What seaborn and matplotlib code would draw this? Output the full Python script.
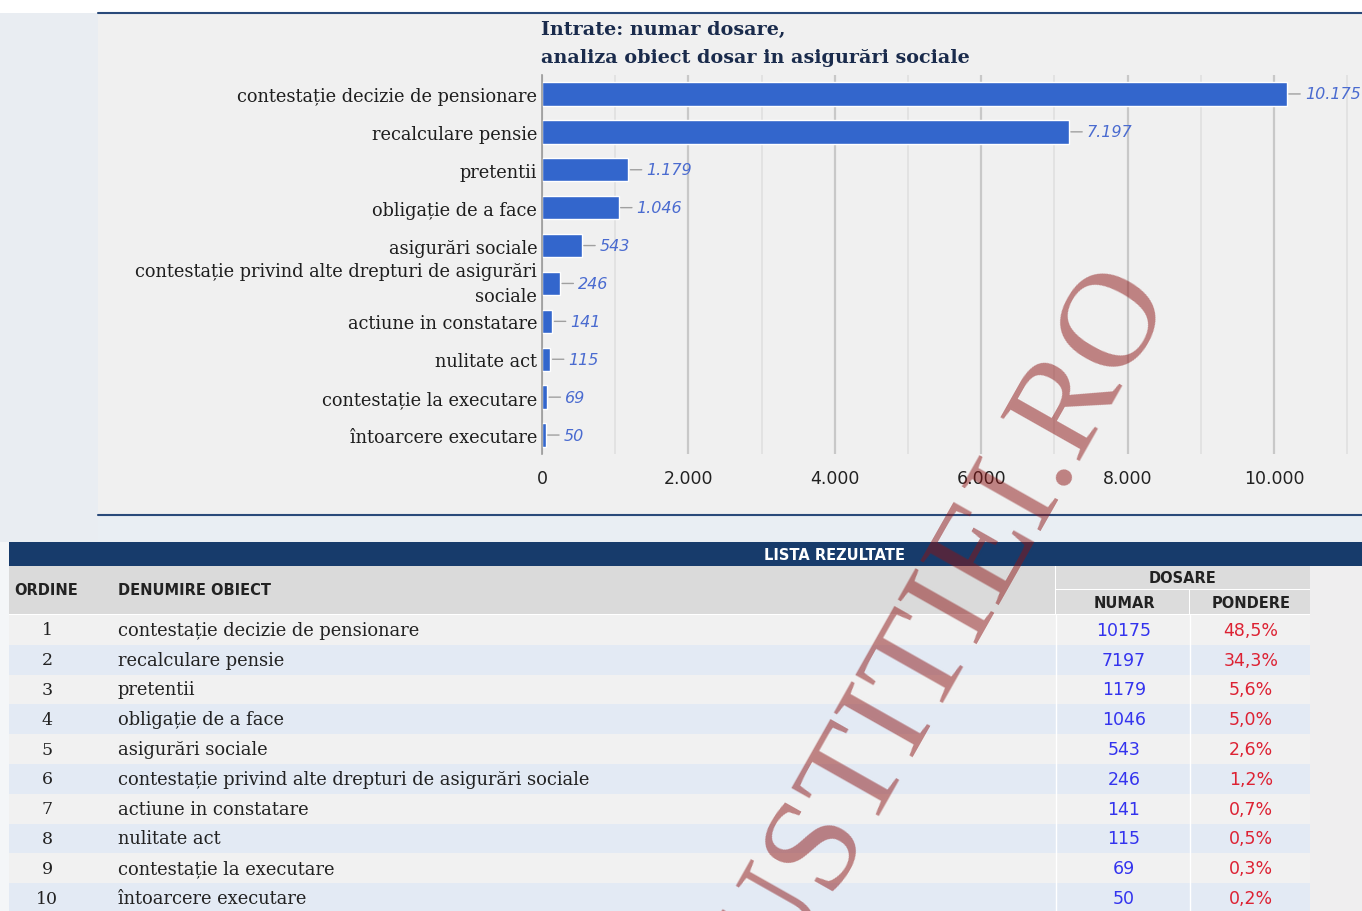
import textwrap

import matplotlib
matplotlib.use("Agg")
import matplotlib.pyplot as plt
import pandas as pd
import seaborn as sns
from matplotlib.patches import Rectangle

# data
categories = [
    "contestație decizie de pensionare",
    "recalculare pensie",
    "pretentii",
    "obligație de a face",
    "asigurări sociale",
    "contestație privind alte drepturi de asigurări sociale",
    "actiune in constatare",
    "nulitate act",
    "contestație la executare",
    "întoarcere executare",
]
numar = [10175, 7197, 1179, 1046, 543, 246, 141, 115, 69, 50]
pondere = [48.5, 34.3, 5.6, 5.0, 2.6, 1.2, 0.7, 0.5, 0.3, 0.2]
x_ticks = [0, 2000, 4000, 6000, 8000, 10000]

chart_title = "Intrate: numar dosare,\nanaliza obiect dosar in asigurări sociale"
table_title = "LISTA REZULTATE"
header_cols = ["ORDINE", "DENUMIRE OBIECT"]
header_group = "DOSARE"
header_sub = ["NUMAR", "PONDERE"]
watermark = "JUSTITIEI.RO"

W, H = 1362, 912
BAR_COLOR = "#3366cc"
NAVY = "#173b6b"
SERIF = "DejaVu Serif"


def thousands(v):
    return f"{int(round(v)):,}".replace(",", ".")


def rect(ax, x0, y0, x1, y1, color):
    ax.add_patch(Rectangle((x0, y0), x1 - x0, y1 - y0, facecolor=color, edgecolor="none"))


sns.set_style("white")
plt.rcParams["font.family"] = ["DejaVu Sans"]

fig = plt.figure(figsize=(W / 100, H / 100), dpi=100, facecolor="white")

# background layer in pixel coordinates
bg = fig.add_axes([0, 0, 1, 1], zorder=0)
bg.set_xlim(0, W)
bg.set_ylim(H, 0)
bg.axis("off")

rect(bg, 0, 14, 98, 543, "#e9edf2")
rect(bg, 98, 516, W, 543, "#e9eef3")
rect(bg, 98, 14, W, 516, "#f0f0f0")
bg.plot([98, W], [14, 14], color="#2a4a7a", lw=1.5)
bg.plot([98, W], [516, 516], color="#2a4a7a", lw=1.5)
bg.text(541, 21, chart_title, ha="left", va="top", family=SERIF, fontweight="bold",
        fontsize=13.8, color="#1a2b4c", linespacing=1.7)

# bar chart
ax = fig.add_axes([542 / W, 1 - 455 / H, (W - 542) / W, (455 - 76) / H], zorder=1)
ax.patch.set_visible(False)
chart_labels = [textwrap.fill(c, 46) for c in categories]
df = pd.DataFrame({"obiect": chart_labels, "numar": numar})
sns.barplot(data=df, x="numar", y="obiect", orient="h", color=BAR_COLOR,
            saturation=1, width=0.62, ax=ax)
ax.set_xlim(0, (W - 542) / 0.0732)
ax.set_ylim(len(categories) - 0.5, -0.5)
ax.set_xticks(x_ticks)
ax.set_xticks(range(1000, 11001, 2000), minor=True)
ax.set_xticklabels([thousands(t) for t in x_ticks])
ax.grid(axis="x", which="major", color="#c8c8c8", lw=1.6)
ax.grid(axis="x", which="minor", color="#e0e0e0", lw=1.2)
ax.set_axisbelow(True)
ax.tick_params(axis="x", which="both", length=0, pad=11, labelsize=12.5, labelcolor="#222222")
ax.tick_params(axis="y", length=0, pad=3.5, labelsize=12.8, labelcolor="#1e1e1e")
for lab in ax.get_yticklabels():
    lab.set_family(SERIF)
    if "\n" in lab.get_text():
        lab.set_linespacing(1.55)
        lab.set_va("center")
ax.set_xlabel("")
ax.set_ylabel("")
for side in ["top", "right", "bottom"]:
    ax.spines[side].set_visible(False)
ax.spines["left"].set_color("#9a9a9a")
ax.spines["left"].set_linewidth(1.2)

for i, v in enumerate(numar):
    ax.annotate(thousands(v), xy=(v, i), xytext=(13, 0), textcoords="offset points",
                ha="left", va="center", fontsize=11.5, style="italic", color="#4a6bd0",
                arrowprops=dict(arrowstyle="-", color="#a0a0a0", lw=1, relpos=(0, 0.5),
                                shrinkA=1, shrinkB=1.5))

# results table
rect(bg, 0, 543, 9, H, "#f4f6f8")
rect(bg, 9, 543, W, 567, NAVY)
bg.text(834, 555.5, table_title, ha="center", va="center", color="white",
        fontweight="bold", fontsize=10.5)

rect(bg, 9, 567, 1055, 615, "#dadada")
rect(bg, 1056, 567, 1310, 590, "#dcdcdc")
rect(bg, 1056, 591, 1189, 615, "#dcdcdc")
rect(bg, 1190, 591, 1310, 615, "#dcdcdc")
rect(bg, 1310, 567, W, H, "#efeeef")

head_kw = dict(va="center", fontweight="bold", fontsize=10.5, color="#222222")
bg.text(14, 591, header_cols[0], ha="left", **head_kw)
bg.text(118, 591, header_cols[1], ha="left", **head_kw)
bg.text(1183, 579, header_group, ha="center", **head_kw)
bg.text(1124, 604, header_sub[0], ha="center", **head_kw)
bg.text(1251, 604, header_sub[1], ha="center", **head_kw)

row_h = 29.8
for i, (name, n, p) in enumerate(zip(categories, numar, pondere)):
    top = 616 + i * row_h
    rect(bg, 9, top, 1310, top + row_h, "#f1f1f1" if i % 2 == 0 else "#e3eaf4")
    cy = top + row_h / 2
    bg.text(47, cy, str(i + 1), ha="center", va="center", family=SERIF, fontsize=12.5, color="#222222")
    bg.text(118, cy, name, ha="left", va="center", family=SERIF, fontsize=12.9, color="#222222")
    bg.text(1124, cy, str(n), ha="center", va="center", fontsize=12.5, color="#3333ee")
    bg.text(1251, cy, f"{p:.1f}%".replace(".", ","), ha="center", va="center", fontsize=12.5, color="#dd2233")
bg.plot([1055.5, 1055.5], [616, H], color="white", lw=1)
bg.plot([1189.5, 1189.5], [616, H], color="white", lw=1)

# watermark on top of everything
fig.text(1171 / W, 1 - 296 / H, watermark, rotation=60.5, rotation_mode="anchor",
         ha="right", va="baseline", fontsize=99, family="Liberation Serif",
         color=(0.55, 0.08, 0.08), alpha=0.5, zorder=20)

fig.savefig("out.png", dpi=100, facecolor=fig.get_facecolor())
